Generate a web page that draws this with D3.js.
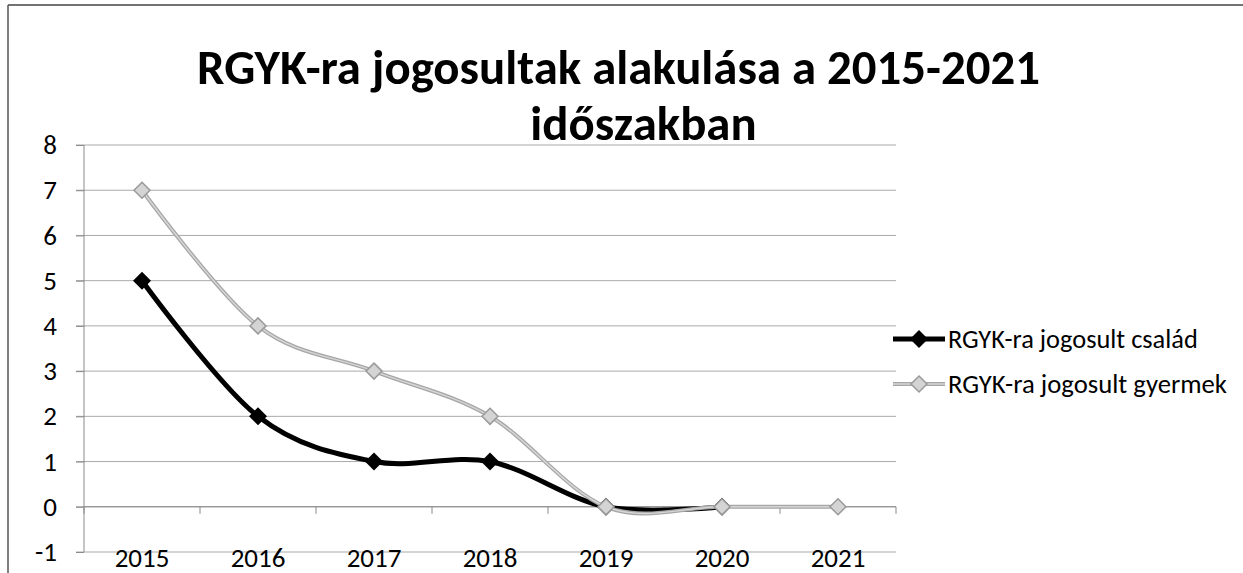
<!DOCTYPE html>
<html>
<head>
<meta charset="utf-8">
<script src="https://cdn.jsdelivr.net/npm/d3@7/dist/d3.min.js"></script>
<style>
  html, body { margin: 0; padding: 0; background: #fff; }
  svg { display: block; }
  text { font-family: Carlito, Calibri, Lato, "Open Sans", sans-serif; fill: #000; }
</style>
</head>
<body>
<svg id="chart" width="1243" height="573"></svg>
<script>
const categories = ["2015", "2016", "2017", "2018", "2019", "2020", "2021"];
const csalad = [5, 2, 1, 1, 0, 0, null];
const gyermek = [7, 4, 3, 2, 0, 0, 0];
const yTicks = [-1, 0, 1, 2, 3, 4, 5, 6, 7, 8];
const seriesNames = ["RGYK-ra jogosult család", "RGYK-ra jogosult gyermek"];
const titleLines = ["RGYK-ra jogosultak alakulása a 2015-2021", "időszakban"];

const W = 1243, H = 573;
const svg = d3.select("#chart");

// chart border (top + left visible in scan)
svg.append("line").attr("x1", 8).attr("x2", W).attr("y1", 5).attr("y2", 5)
  .attr("stroke", "#444").attr("stroke-width", 1.5);
svg.append("line").attr("x1", 8).attr("x2", 8).attr("y1", 5).attr("y2", H)
  .attr("stroke", "#555").attr("stroke-width", 1.5);

const x = d3.scaleBand().domain(categories).range([84, 896]);
const y = d3.scaleLinear().domain([-1, 8]).range([552, 145]);
const cx = c => x(c) + x.bandwidth() / 2;

function fit(sel, target) {
  const fs = parseFloat(sel.attr("font-size"));
  const w = sel.node().getComputedTextLength();
  sel.attr("font-size", fs * target / w);
  return fs * target / w;
}

// gridlines
svg.append("g").selectAll("line").data(yTicks).join("line")
  .attr("x1", 76).attr("x2", x.range()[1])
  .attr("y1", d => y(d)).attr("y2", d => y(d))
  .attr("stroke", "#a9a9a9").attr("stroke-width", 1);

// y axis
const yAxis = svg.append("g").attr("transform", `translate(${x.range()[0]},0)`)
  .call(d3.axisLeft(y).tickValues(yTicks).tickSize(8).tickPadding(19).tickFormat(d => String(d)));
yAxis.selectAll("path, line").attr("stroke", "#8a8a8a");
yAxis.select(".domain").attr("d", `M0,${y(8)}V${y(-1)}`);
yAxis.selectAll("text").attr("font-size", 27).attr("font-family", "Carlito, Calibri, Lato, sans-serif").attr("fill", "#000");

// horizontal axis at y=0 with boundary ticks
const xAxisG = svg.append("g");
xAxisG.append("line").attr("x1", x.range()[0]).attr("x2", x.range()[1])
  .attr("y1", y(0)).attr("y2", y(0)).attr("stroke", "#8a8a8a");
const bounds = d3.range(categories.length + 1).map(k => x.range()[0] + k * x.step());
xAxisG.selectAll("line.tk").data(bounds).join("line").attr("class", "tk")
  .attr("x1", d => d).attr("x2", d => d).attr("y1", y(0)).attr("y2", y(0) + 7)
  .attr("stroke", "#8a8a8a");
// category labels placed low
svg.append("g").selectAll("text").data(categories).join("text")
  .attr("x", d => cx(d)).attr("y", y(-1) + 6).attr("dy", "0.35em")
  .attr("text-anchor", "middle").attr("font-size", 27).text(d => d);

// series
const line = d3.line()
  .defined(d => d.v != null)
  .x(d => cx(d.c)).y(d => y(d.v))
  .curve(d3.curveCatmullRom.alpha(0));

const s1 = categories.map((c, i) => ({ c, v: csalad[i] }));
const s2 = categories.map((c, i) => ({ c, v: gyermek[i] }));

const diamond = (r) => `M0,${-r}L${r},0L0,${r}L${-r},0Z`;

// black series
svg.append("path").datum(s1).attr("d", line)
  .attr("fill", "none").attr("stroke", "#000").attr("stroke-width", 5).attr("stroke-linejoin", "round");
svg.append("g").selectAll("path").data(s1.filter(d => d.v != null)).join("path")
  .attr("transform", d => `translate(${cx(d.c)},${y(d.v)})`)
  .attr("d", diamond(9)).attr("fill", "#000");

// gray series
svg.append("path").datum(s2).attr("d", line)
  .attr("fill", "none").attr("stroke", "#a6a6a6").attr("stroke-width", 4).attr("stroke-linejoin", "round");
svg.append("path").datum(s2).attr("d", line)
  .attr("fill", "none").attr("stroke", "#d6d6d6").attr("stroke-width", 1.5);
svg.append("g").selectAll("path").data(s2.filter(d => d.v != null)).join("path")
  .attr("transform", d => `translate(${cx(d.c)},${y(d.v)})`)
  .attr("d", diamond(8)).attr("fill", "#d4d4d4").attr("stroke", "#9a9a9a").attr("stroke-width", 1.5);

// legend
const leg = svg.append("g");
const legY = [339, 384];
const legW = [250, 279];
leg.append("line").attr("x1", 893).attr("x2", 945).attr("y1", legY[0]).attr("y2", legY[0])
  .attr("stroke", "#000").attr("stroke-width", 5);
leg.append("path").attr("transform", `translate(919,${legY[0]})`).attr("d", diamond(9)).attr("fill", "#000");
leg.append("line").attr("x1", 893).attr("x2", 945).attr("y1", legY[1]).attr("y2", legY[1])
  .attr("stroke", "#a6a6a6").attr("stroke-width", 4);
leg.append("line").attr("x1", 893).attr("x2", 945).attr("y1", legY[1]).attr("y2", legY[1])
  .attr("stroke", "#d6d6d6").attr("stroke-width", 1.5);
leg.append("path").attr("transform", `translate(919,${legY[1]})`).attr("d", diamond(8))
  .attr("fill", "#d4d4d4").attr("stroke", "#9a9a9a").attr("stroke-width", 1.5);
seriesNames.forEach((n, i) => {
  const t = leg.append("text").attr("x", 948).attr("y", legY[i]).attr("dy", "0.35em")
    .attr("font-size", 24).text(n);
  fit(t, legW[i]);
});

// title
const t1 = svg.append("text").attr("x", 618.5).attr("y", 84).attr("text-anchor", "middle")
  .attr("font-weight", "bold").attr("font-size", 46).text(titleLines[0]);
const fs = fit(t1, 843);
svg.append("text").attr("x", 643.5).attr("y", 140).attr("text-anchor", "middle")
  .attr("font-weight", "bold").attr("font-size", fs).text(titleLines[1]);
</script>
</body>
</html>
